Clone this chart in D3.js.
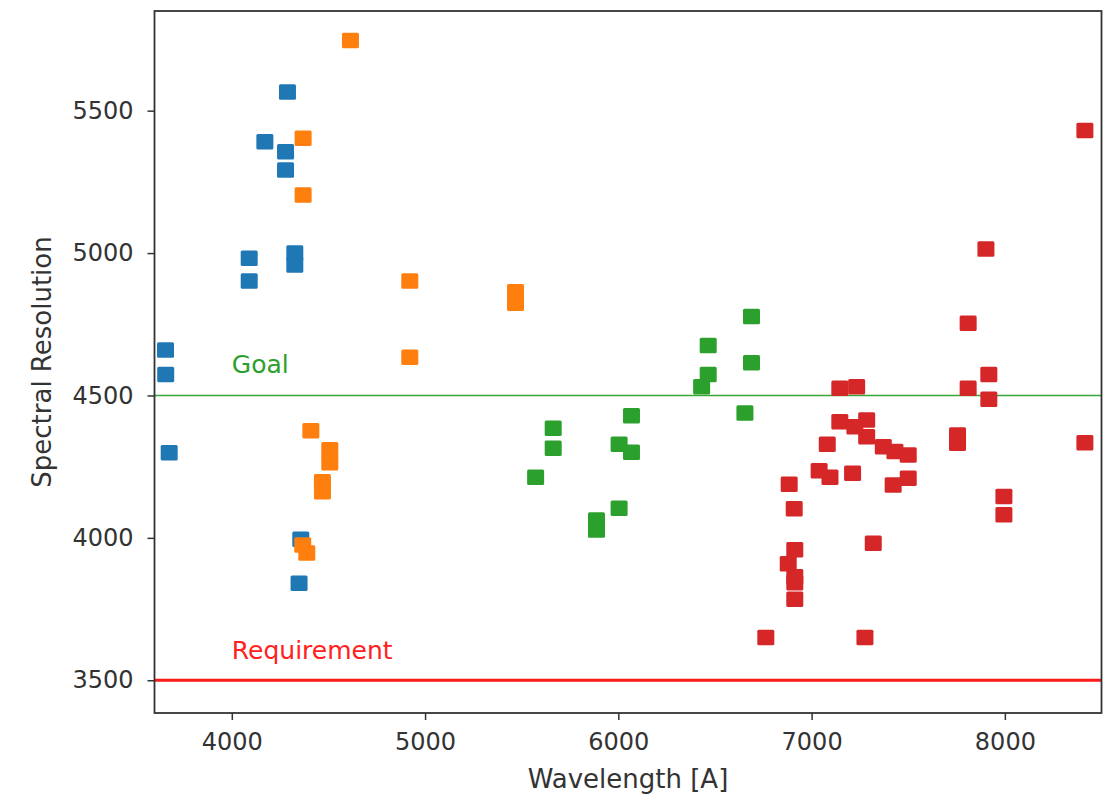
<!DOCTYPE html>
<html>
<head>
<meta charset="utf-8">
<script src="https://cdn.jsdelivr.net/npm/d3@7"></script>
<style>
  body { margin: 0; background: #fff; }
  svg { display: block; font-family: "DejaVu Sans", sans-serif; }
</style>
</head>
<body>
<svg id="chart" width="1113" height="799"></svg>
<script>
// series: wavelength [A] and spectral resolution
let blueWave = [3657, 3658, 3676, 4090, 4090, 4171, 4288, 4278, 4278, 4326, 4326, 4357, 4348];
let blueRes  = [4660, 4574, 4299, 4982, 4902, 5391, 5566, 5356, 5292, 5000, 4958, 3995, 3841];

let orangeWave = [4614, 4369, 4369, 4921, 4921, 5468, 5468, 4409, 4507, 4507, 4469, 4469, 4367, 4388];
let orangeRes  = [5746, 5403, 5204, 4902, 4634, 4864, 4824, 4376, 4309, 4264, 4197, 4162, 3975, 3947];

let greenWave = [6689, 6465, 6689, 6465, 6431, 6068, 6655, 5663, 5663, 6004, 6068, 5572, 6004, 5887, 5887];
let greenRes  = [4777, 4675, 4615, 4574, 4531, 4429, 4438, 4385, 4315, 4329, 4301, 4213, 4104, 4063, 4028];

let redWave = [6884, 6910, 7146, 7233, 7810, 7146, 7224, 7285, 7285, 7081, 7371, 7431, 7500, 7500,
  7755, 7755, 7039, 7095, 7212, 7422, 6913, 6879, 6913, 6913, 6913, 6763, 7276, 7319,
  8414, 7902, 7810, 7917, 7917, 8414, 7995, 7995];
let redRes  = [4188, 4102, 4525, 4531, 4525, 4408, 4390, 4414, 4355, 4329, 4320, 4303, 4291, 4209,
  4361, 4332, 4236, 4213, 4227, 4186, 3958, 3909, 3863, 3842, 3784, 3650, 3650, 3981,
  5430, 5014, 4754, 4574, 4487, 4334, 4145, 4081];

let seriesColors = ['#1f77b4', '#ff7f0e', '#2ca02c', '#d62728'];

let xTicks = [4000, 5000, 6000, 7000, 8000];
let yTicks = [3500, 4000, 4500, 5000, 5500];

let goal = 4500;
let requirement = 3500;

let series = [
  [blueWave, blueRes],
  [orangeWave, orangeRes],
  [greenWave, greenRes],
  [redWave, redRes]
].map(function (s, i) {
  return { color: seriesColors[i], points: s[0].map(function (w, j) { return [w, s[1][j]]; }) };
});

let margin = { left: 154.5, right: 1101.5, top: 11, bottom: 713 };

let x = d3.scaleLinear().domain([3600, 8500]).range([margin.left, margin.right]);
let y = d3.scaleLinear().domain([3385, 5850]).range([margin.bottom, margin.top]);

let svg = d3.select('#chart');

// threshold lines
svg.append('line')
  .attr('x1', margin.left).attr('x2', margin.right)
  .attr('y1', y(goal)).attr('y2', y(goal))
  .attr('stroke', '#3aa63a').attr('stroke-width', 1.6);

svg.append('line')
  .attr('x1', margin.left).attr('x2', margin.right)
  .attr('y1', y(requirement)).attr('y2', y(requirement))
  .attr('stroke', '#ff1a1a').attr('stroke-width', 2.8);

// markers
let mw = 17, mh = 15.5;
series.forEach(function (s) {
  svg.append('g')
    .selectAll('rect')
    .data(s.points)
    .enter()
    .append('rect')
    .attr('x', function (d) { return x(d[0]) - mw / 2; })
    .attr('y', function (d) { return y(d[1]) - mh / 2; })
    .attr('width', mw)
    .attr('height', mh)
    .attr('rx', 1.5)
    .attr('fill', s.color);
});

// annotations
svg.append('text')
  .attr('x', x(4000)).attr('y', y(4580))
  .attr('fill', '#2ca02c').attr('font-size', 25)
  .text('Goal');

svg.append('text')
  .attr('x', x(4000)).attr('y', y(3575))
  .attr('fill', '#ff2020').attr('font-size', 25)
  .text('Requirement');

// frame
svg.append('rect')
  .attr('x', margin.left).attr('y', margin.top)
  .attr('width', margin.right - margin.left)
  .attr('height', margin.bottom - margin.top)
  .attr('fill', 'none').attr('stroke', '#333').attr('stroke-width', 1.8);

// axes
let xAxis = svg.append('g')
  .attr('transform', 'translate(0,' + margin.bottom + ')')
  .call(d3.axisBottom(x).tickValues(xTicks).tickFormat(d3.format('d')).tickSize(7).tickPadding(13));

let yAxis = svg.append('g')
  .attr('transform', 'translate(' + margin.left + ',0)')
  .call(d3.axisLeft(y).tickValues(yTicks).tickFormat(d3.format('d')).tickSize(7).tickPadding(14));

[xAxis, yAxis].forEach(function (a) {
  a.select('.domain').remove();
  a.selectAll('.tick line').attr('stroke', '#333').attr('stroke-width', 1.5);
  a.selectAll('.tick text')
    .attr('fill', '#333')
    .attr('font-size', 24)
    .attr('font-family', '"DejaVu Sans", sans-serif');
});

// axis labels
svg.append('text')
  .attr('x', (margin.left + margin.right) / 2).attr('y', 788)
  .attr('text-anchor', 'middle')
  .attr('fill', '#333').attr('font-size', 26)
  .text('Wavelength [A]');

svg.append('text')
  .attr('transform', 'translate(51,' + (margin.top + margin.bottom) / 2 + ') rotate(-90)')
  .attr('text-anchor', 'middle')
  .attr('fill', '#333').attr('font-size', 26)
  .text('Spectral Resolution');
</script>
</body>
</html>
